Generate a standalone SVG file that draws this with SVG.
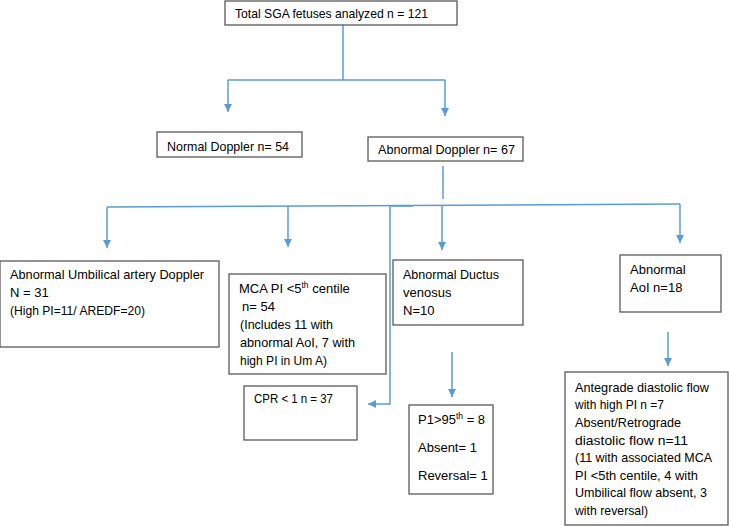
<svg xmlns="http://www.w3.org/2000/svg" width="729" height="526" viewBox="0 0 729 526">
<defs>
<marker id="ah" markerWidth="8" markerHeight="8" viewBox="0 0 8 8" refX="8" refY="4" orient="auto" markerUnits="userSpaceOnUse">
<path d="M0,0 L8,4 L0,8 Z" fill="#5b9bd5"/>
</marker>
<style>
.box{fill:#fff;stroke:#595959;stroke-width:1.3}
.t{font-family:"Liberation Sans",Arial,sans-serif;font-size:13px;fill:#000}
.c{fill:none;stroke:#5b9bd5;stroke-width:1.5}
.s{font-size:8.5px}
</style>
</defs>
<rect width="729" height="526" fill="#fff"/>
<g id="connectors">
<path class="c" d="M343,25 V80"/>
<path class="c" d="M228,80 H445"/>
<path class="c" d="M228,80 V112" marker-end="url(#ah)"/>
<path class="c" d="M445,80 V116" marker-end="url(#ah)"/>
<path class="c" d="M443,166 V199"/>
<path class="c" d="M107,207 L680,204"/>
<path class="c" d="M107,207 V248" marker-end="url(#ah)"/>
<path class="c" d="M288,206 V247" marker-end="url(#ah)"/>
<path class="c" d="M442,205 V250" marker-end="url(#ah)"/>
<path class="c" d="M680,204 V243" marker-end="url(#ah)"/>
<path class="c" d="M413,206 H390 V404 H368" marker-end="url(#ah)"/>
<path class="c" d="M452,352 V397" marker-end="url(#ah)"/>
<path class="c" d="M668,332 V366" marker-end="url(#ah)"/>
</g>
<g id="total">
<rect class="box" x="225" y="1" width="232" height="24"/>
<text class="t" x="235" y="18" textLength="193" lengthAdjust="spacingAndGlyphs">Total SGA fetuses analyzed n = 121</text>
</g>
<g id="normal">
<rect class="box" x="157" y="132" width="145" height="25"/>
<text class="t" x="167" y="151" textLength="122" lengthAdjust="spacingAndGlyphs">Normal Doppler n= 54</text>
</g>
<g id="abnormal">
<rect class="box" x="368" y="137" width="155" height="24"/>
<text class="t" x="378" y="154" textLength="137" lengthAdjust="spacingAndGlyphs">Abnormal Doppler n= 67</text>
</g>
<g id="umbilical">
<rect class="box" x="0" y="261" width="219" height="86"/>
<text class="t" x="10" y="279" textLength="194" lengthAdjust="spacingAndGlyphs">Abnormal Umbilical artery Doppler</text>
<text class="t" x="10" y="297">N = 31</text>
<text class="t" x="10" y="315" textLength="135" lengthAdjust="spacingAndGlyphs">(High PI=11/ AREDF=20)</text>
</g>
<g id="mca">
<rect class="box" x="229" y="274" width="157" height="100"/>
<text class="t" x="239" y="293">MCA PI &lt;5<tspan class="s" dy="-5">th</tspan><tspan dy="5"> centile</tspan></text>
<text class="t" x="242" y="311">n= 54</text>
<text class="t" x="240" y="329" textLength="93" lengthAdjust="spacingAndGlyphs">(Includes 11 with</text>
<text class="t" x="240" y="347" textLength="115" lengthAdjust="spacingAndGlyphs">abnormal AoI, 7 with</text>
<text class="t" x="240" y="365" textLength="87" lengthAdjust="spacingAndGlyphs">high PI in Um A)</text>
</g>
<g id="cpr">
<rect class="box" x="244" y="386" width="113" height="54"/>
<text class="t" x="254" y="403" textLength="79" lengthAdjust="spacingAndGlyphs">CPR &lt; 1 n = 37</text>
</g>
<g id="ductus">
<rect class="box" x="393" y="260" width="130" height="65"/>
<text class="t" x="403" y="279" textLength="96" lengthAdjust="spacingAndGlyphs">Abnormal Ductus</text>
<text class="t" x="403" y="297">venosus</text>
<text class="t" x="403" y="315">N=10</text>
</g>
<g id="aoi">
<rect class="box" x="620" y="255" width="101" height="57"/>
<text class="t" x="630" y="274">Abnormal</text>
<text class="t" x="630" y="292">AoI n=18</text>
</g>
<g id="p1">
<rect class="box" x="409" y="405" width="84" height="89"/>
<text class="t" x="418" y="424">P1&gt;95<tspan class="s" dy="-5">th</tspan><tspan dy="5"> = 8</tspan></text>
<text class="t" x="418" y="452">Absent= 1</text>
<text class="t" x="418" y="480">Reversal= 1</text>
</g>
<g id="antegrade">
<rect class="box" x="565" y="372" width="163" height="153"/>
<text class="t" x="575" y="392" textLength="134" lengthAdjust="spacingAndGlyphs">Antegrade diastolic flow</text>
<text class="t" x="575" y="409" textLength="89" lengthAdjust="spacingAndGlyphs">with high PI n =7</text>
<text class="t" x="575" y="427" textLength="106" lengthAdjust="spacingAndGlyphs">Absent/Retrograde</text>
<text class="t" x="575" y="445" textLength="113" lengthAdjust="spacingAndGlyphs">diastolic flow n=11</text>
<text class="t" x="575" y="462" textLength="137" lengthAdjust="spacingAndGlyphs">(11 with associated MCA</text>
<text class="t" x="575" y="480" textLength="123" lengthAdjust="spacingAndGlyphs">PI &lt;5th centile, 4 with</text>
<text class="t" x="575" y="497" textLength="132" lengthAdjust="spacingAndGlyphs">Umbilical flow absent, 3</text>
<text class="t" x="575" y="515" textLength="73" lengthAdjust="spacingAndGlyphs">with reversal)</text>
</g>
</svg>
